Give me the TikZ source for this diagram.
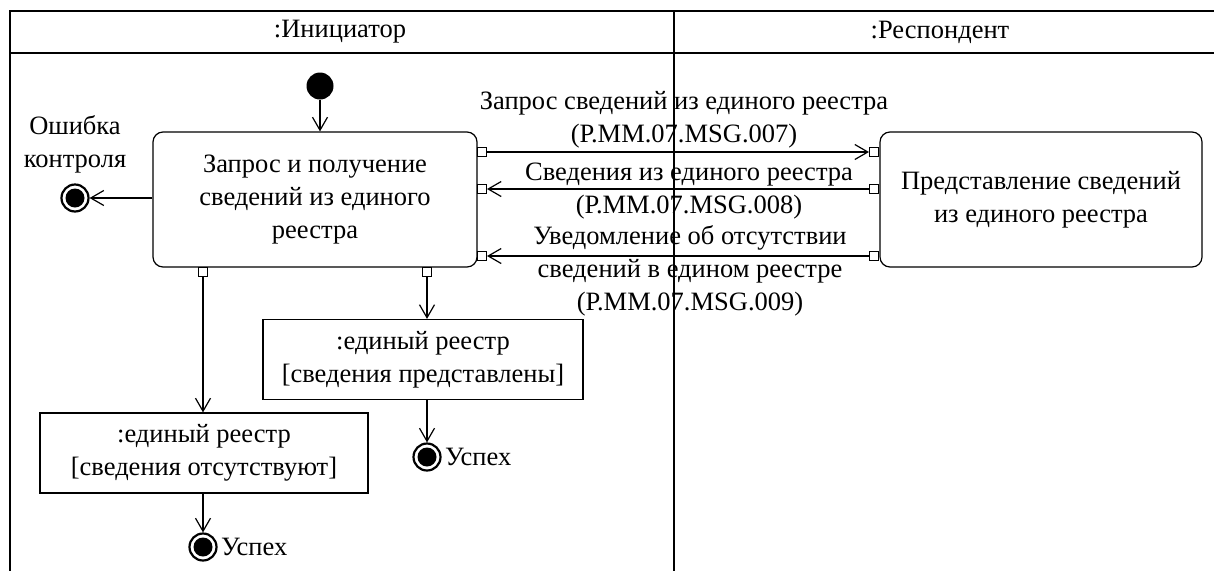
\documentclass[tikz,border=0pt]{standalone}
\usepackage{fontspec}
\setmainfont{Liberation Serif}
\usetikzlibrary{positioning, arrows.meta, shapes}

\begin{document}
\begin{tikzpicture}[
		x=1pt, y=-1pt,
		>={Straight Barb[length=13pt,width=15pt]},
		every node/.style={font=\fontsize{26.5}{33}\selectfont},
		actnode/.style={draw, rounded corners=10pt, line width=1.2pt, minimum width=324pt, minimum height=135pt, align=center},
		objnode/.style={draw, line width=1.2pt, minimum height=80pt, align=center},
		pinbox/.style={draw, fill=white, line width=1pt, minimum size=9pt, inner sep=0pt},
		startnode/.style={circle, fill=black, minimum size=27pt, inner sep=0pt},
		endnode/.style={circle, draw, line width=2.2pt, minimum size=27pt, inner sep=0pt,
			path picture={\fill (path picture bounding box.center) circle (9.5pt);}},
		flow/.style={->, line width=1.2pt},
		lane/.style={line width=1.5pt},
	]
	\useasboundingbox (0,0) rectangle (1214,571);
	% swimlanes
	\draw[lane] (1214,11) -- (10,11) -- (10,571);
	\draw[lane] (10,53) -- (1214,53);
	\draw[lane] (674,11) -- (674,571);
	\node (ini) at (340,32) {:Инициатор};
	\node (resp) at (940,32) {:Респондент};

	\node[startnode] (start) at (320,86) {};
	\node[actnode] (req) at (315,199.5) {Запрос и получение\\сведений из единого\\реестра};
	\node[actnode, minimum width=322pt] (prov) at (1041,199.5) {Представление сведений\\из единого реестра};

	% pins
	\node[pinbox] (req_o1) at (482,152) {};
	\node[pinbox] (req_i2) at (482,189) {};
	\node[pinbox] (req_i3) at (482,256) {};
	\node[pinbox] (prov_i1) at (874,152) {};
	\node[pinbox] (prov_o2) at (874,189) {};
	\node[pinbox] (prov_o3) at (874,256) {};
	\node[pinbox] (req_o4) at (203,272) {};
	\node[pinbox] (req_o5) at (427,272) {};

	\node[objnode, minimum width=320pt] (reg_ok) at (423,359.5) {:единый реестр\\{[}сведения представлены{]}};
	\node[objnode, minimum width=328pt] (reg_none) at (204,453) {:единый реестр\\{[}сведения отсутствуют{]}};

	\node[endnode] (err) at (75,198) {};
	\node[align=center] (err_label) at (75,144) {Ошибка\\контроля};
	\node[endnode] (ok1) at (427,457) {};
	\node[right=0pt of ok1] (ok1_label) {Успех};
	\node[endnode] (ok2) at (203,547) {};
	\node[right=0pt of ok2] (ok2_label) {Успех};

	% messages
	\node[align=center] (m1) at (684,120) {Запрос сведений из единого реестра\\(Р.ММ.07.MSG.007)};
	\node[align=center] (m2) at (689,191) {Сведения из единого реестра\\(Р.ММ.07.MSG.008)};
	\node[align=center] (m3) at (690,271) {Уведомление об отсутствии\\сведений в едином реестре\\(Р.ММ.07.MSG.009)};

	\draw[flow] (start) -- (start |- req.north);
	\draw[flow] (req_o1) -- (prov_i1);
	\draw[flow] (prov_o2) -- (req_i2);
	\draw[flow] (prov_o3) -- (req_i3);
	\draw[flow] (req.west |- err) -- (err);
	\draw[flow] (req_o4) -- (req_o4 |- reg_none.north);
	\draw[flow] (req_o5) -- (req_o5 |- reg_ok.north);
	\draw[flow] (ok1 |- reg_ok.south) -- (ok1);
	\draw[flow] (ok2 |- reg_none.south) -- (ok2);
\end{tikzpicture}
\end{document}
